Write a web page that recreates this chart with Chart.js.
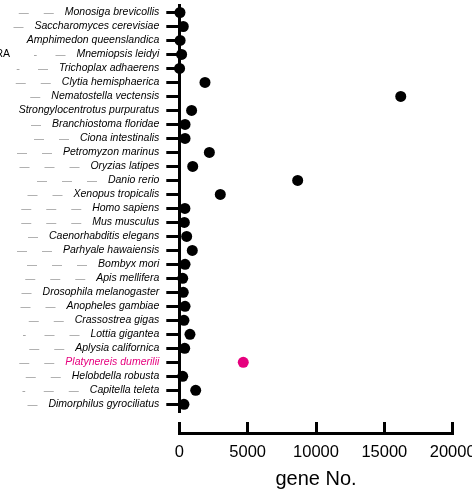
<!DOCTYPE html>
<html>
<head>
<meta charset="utf-8">
<script src="https://cdn.jsdelivr.net/npm/chart.js@4"></script>
<style>
  html, body { margin: 0; padding: 0; background: #fff; }
  #wrap { width: 472px; height: 504px; }
</style>
</head>
<body>
<div id="wrap"><canvas id="geneChart"></canvas></div>
<script>
// species shown on the y axis, top to bottom
const species = [
    'Monosiga brevicollis', 'Saccharomyces cerevisiae', 'Amphimedon queenslandica',
    'Mnemiopsis leidyi', 'Trichoplax adhaerens', 'Clytia hemisphaerica',
    'Nematostella vectensis', 'Strongylocentrotus purpuratus', 'Branchiostoma floridae',
    'Ciona intestinalis', 'Petromyzon marinus', 'Oryzias latipes', 'Danio rerio',
    'Xenopus tropicalis', 'Homo sapiens', 'Mus musculus', 'Caenorhabditis elegans',
    'Parhyale hawaiensis', 'Bombyx mori', 'Apis mellifera', 'Drosophila melanogaster',
    'Anopheles gambiae', 'Crassostrea gigas', 'Lottia gigantea', 'Aplysia californica',
    'Platynereis dumerilii', 'Helobdella robusta', 'Capitella teleta', 'Dimorphilus gyrociliatus'
]

// gene numbers
const geneCounts = [
    50, 290, 60, 170, 20, 1880, 16200, 900, 420, 420, 2200, 980, 8660, 3000,
    410, 370, 540, 950, 420, 250, 290, 420, 340, 780, 395, 4680, 250, 1200, 340
]

// grey dashes left of each name ('-' short, '—' long)
const dashRows = [
    '— —', '—', '', '- —', '- —', '— —', '—', '', '—', '— —', '— —', '— — —', '— — —',
    '— —', '— — —', '— — —', '—', '— —', '— — —', '— — —', '—', '— —', '— —', '- — —',
    '— —', '— —', '— —', '- — —', '—'
]

// cut off clade note at the far left
const sideNotes = { 'Mnemiopsis leidyi': 'RA' }

const xTicks = [0, 5000, 10000, 15000, 20000]
const highlight = 'Platynereis dumerilii'

const pink = '#e6007e'
const fontFamily = '"Liberation Sans", Arial, Helvetica, sans-serif'
const labelFont = { family: fontFamily, size: 10.5, style: 'italic' }

//push the x axis a bit below the plot area, like the reference
const detachX = {
    id: 'detachX',
    afterLayout(chart) {
        chart.scales.x.top += 21.7
    }
}

//grey dashes and side notes next to the species names
const dashLabels = {
    id: 'dashLabels',
    afterDraw(chart) {
        const ctx = chart.ctx
        const yScale = chart.scales.y
        const labelRight = yScale.right - 13 - 7
        ctx.save()
        ctx.textBaseline = 'middle'
        species.forEach((name, i) => {
            const py = yScale.getPixelForValue(i)
            ctx.font = 'italic 10.5px ' + fontFamily
            const labelLeft = labelRight - ctx.measureText(name).width
            const tokens = dashRows[i].split(' ').filter(Boolean)
            let cx = labelLeft - 16
            ctx.fillStyle = '#9a9a9a'
            ctx.textAlign = 'center'
            for (let k = tokens.length - 1; k >= 0; k--) {
                ctx.font = (tokens[k] === '-' ? '11px ' : '10px ') + fontFamily
                ctx.fillText(tokens[k], cx, py + 0.5)
                cx -= 25
            }
            if (sideNotes[name]) {
                ctx.fillStyle = '#000'
                ctx.textAlign = 'right'
                ctx.font = '10.5px ' + fontFamily
                ctx.fillText(sideNotes[name], 10, py)
            }
        })
        ctx.restore()
    }
}

const ctx = document.getElementById('geneChart').getContext('2d')
const geneChart = new Chart(ctx, {
    type: 'line',
    data: {
        labels: species,
        datasets: [{
            data: geneCounts,
            showLine: false,
            clip: false,
            pointRadius: 5.5,
            pointHoverRadius: 5.5,
            pointBorderWidth: 0,
            pointBackgroundColor: species.map(s => s === highlight ? pink : '#000'),
            pointBorderColor: species.map(s => s === highlight ? pink : '#000')
        }]
    },
    plugins: [detachX, dashLabels],
    options: {
        indexAxis: 'y',
        responsive: true,
        maintainAspectRatio: false,
        animation: false,
        events: [],
        layout: {
            padding: { top: 4.7, right: 19.3, bottom: 0, left: 0 }
        },
        plugins: {
            legend: { display: false },
            tooltip: { enabled: false }
        },
        scales: {
            y: {
                type: 'category',
                position: 'left',
                offset: true,
                grid: {
                    display: true,
                    offset: false,
                    drawOnChartArea: false,
                    drawTicks: true,
                    tickLength: 13,
                    lineWidth: 3,
                    color: '#000'
                },
                border: { display: true, width: 3, color: '#000' },
                ticks: {
                    padding: 7,
                    autoSkip: false,
                    font: labelFont,
                    color: (c) => c.tick && c.tick.label === highlight ? pink : '#000'
                },
                afterFit(scale) {
                    scale.width = 179.3
                    scale.paddingTop = 0
                    scale.paddingBottom = 0
                }
            },
            x: {
                type: 'linear',
                position: 'bottom',
                min: xTicks[0],
                max: xTicks[xTicks.length - 1],
                afterBuildTicks(scale) {
                    scale.ticks = xTicks.map(v => ({ value: v }))
                },
                grid: {
                    display: true,
                    drawOnChartArea: false,
                    drawTicks: true,
                    tickLength: -11,
                    lineWidth: 3,
                    color: '#000'
                },
                border: { display: true, width: 3, color: '#000' },
                ticks: {
                    padding: 20.6,
                    maxRotation: 0,
                    font: { family: fontFamily, size: 16.5 },
                    color: '#000',
                    callback: (v) => String(v)
                },
                title: {
                    display: true,
                    text: 'gene No.',
                    color: '#000',
                    font: { family: fontFamily, size: 20 },
                    padding: { top: 0, bottom: 12.3 }
                },
                afterFit(scale) {
                    scale.height = 92.7
                    scale.paddingLeft = 0
                    scale.paddingRight = 0
                }
            }
        }
    }
})
</script>
</body>
</html>
